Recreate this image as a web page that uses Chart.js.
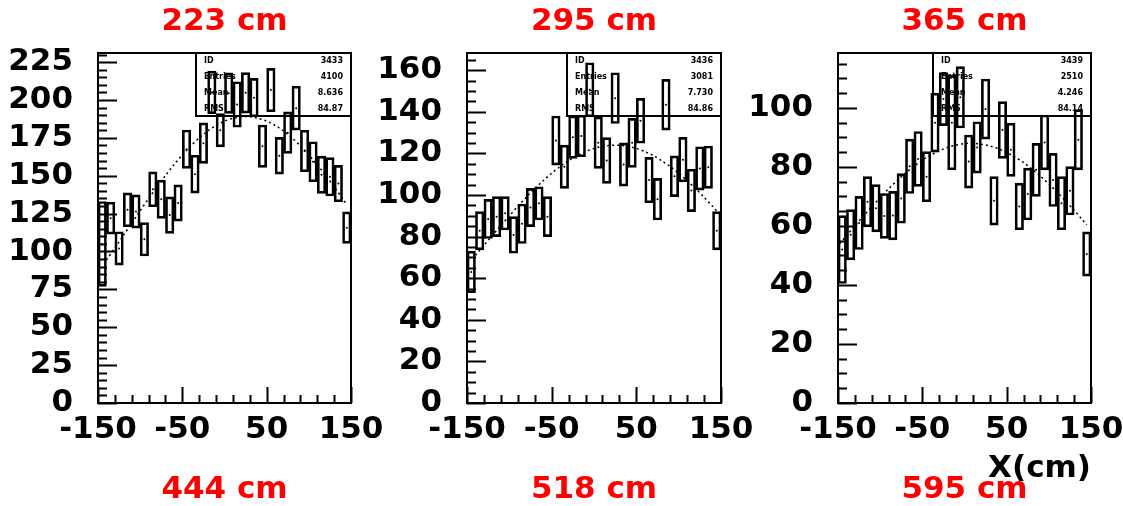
<!DOCTYPE html>
<html>
<head>
<meta charset="utf-8">
<script src="https://cdn.jsdelivr.net/npm/chart.js@4"></script>
<style>
  html, body { margin: 0; background: #fff; }
  #wrap { position: relative; width: 1123px; height: 506px; }
  #wrap canvas { position: absolute; left: 0; top: 0; }
</style>
</head>
<body>
<div id="wrap">
  <canvas id="c1" width="1123" height="506"></canvas>
  <canvas id="c2" width="1123" height="506"></canvas>
  <canvas id="c3" width="1123" height="506"></canvas>
</div>
<script>
const $ = document;

// 30 bins of 10 cm from -150 to 150
const binCenters = [-145, -135, -125, -115, -105, -95, -85, -75, -65, -55,
  -45, -35, -25, -15, -5, 5, 15, 25, 35, 45,
  55, 65, 75, 85, 95, 105, 115, 125, 135, 145];

// panel 1 (223 cm / 444 cm)
const values1 = [105, 122, 102, 127.5, 126.4, 108, 141, 134.5, 124, 132,
  167.5, 151, 171.5, 205, 180, 204.5, 197, 204.7, 201.5, 169.5,
  206.5, 163.2, 178.4, 194.6, 166.3, 159.2, 150.6, 149.3, 144.8, 115.7];
const errors1 = [28, 10.5, 11, 11.2, 11, 11, 11.5, 12.6, 12, 12,
  12.7, 12.5, 13.4, 14, 11, 13.4, 15, 13.4, 12.7, 14,
  14.3, 12.1, 13.7, 14.5, 13.7, 13.2, 12.3, 12.7, 12, 10.4];

// panel 2 (295 cm / 518 cm)
const values2 = [63, 82.8, 88.5, 89.6, 91.2, 80.8, 86.2, 94, 96, 89.6,
  126.2, 113.6, 127.8, 128.4, 150.6, 125.2, 116.6, 146.6, 114.7, 125.1,
  135.7, 107.2, 98, 143.4, 109, 117, 102.2, 112.8, 113.4, 82.8];
const errors2 = [10, 9.2, 9.4, 9.6, 8, 8.8, 9.5, 9.2, 8, 9.6,
  11.8, 10.4, 10.2, 10, 13, 12.4, 11, 12.2, 10.4, 11.8,
  10.8, 10.9, 10, 12.2, 9.8, 10.7, 10.2, 10.4, 10.2, 9.2];

// panel 3 (365 cm / 595 cm)
const values3 = [52, 57, 61, 68.2, 66, 63.4, 63.5, 69.3, 80.2, 82.7,
  76.7, 95, 103, 95, 103.6, 81.8, 86.6, 99.6, 68.5, 92.5,
  85.8, 66.6, 70.8, 79, 88.3, 75.6, 67.7, 71.9, 89.2, 50.5];
const errors3 = [11.5, 8.5, 9, 8.5, 8, 7.6, 8.2, 8.4, 9.2, 9.3,
  8.5, 10, 9, 16, 10.4, 9, 8.7, 10.2, 8.2, 9.6,
  9, 7.9, 8.8, 9, 9.3, 9, 9, 8.2, 10.2, 7.5];

// fit curves
const curveX = [-140, -130, -120, -110, -100, -90, -80, -70, -60, -50,
  -40, -30, -20, -10, 0, 10, 20, 30, 40, 50,
  60, 70, 80, 90, 100, 110, 120, 130, 140, 145];
const curve1 = [94.4, 102.4, 110.5, 118.7, 126.9, 134.9, 142.7, 150.1, 157.2, 163.7,
  169.7, 175.0, 179.5, 183.2, 186.0, 187.9, 188.9, 188.9, 187.9, 186.0,
  183.2, 179.5, 175.0, 169.7, 163.7, 157.2, 150.1, 142.7, 134.9, 130.9];
const curve2 = [71.0, 75.8, 80.6, 85.3, 90.0, 94.6, 98.9, 103.1, 106.9, 110.5,
  113.7, 116.5, 119.0, 120.9, 122.4, 123.4, 123.9, 123.9, 123.4, 122.4,
  120.9, 119.0, 116.5, 113.7, 110.5, 106.9, 103.1, 98.9, 94.6, 92.3];
const curveX3 = [-148, -140, -130, -120, -110, -100, -90, -80, -70, -60,
  -50, -40, -30, -20, -10, 0, 10, 20, 30, 40,
  50, 60, 70, 80, 90, 100, 110, 120, 130, 140, 145];
const curve3 = [54.0, 56.7, 60.0, 63.3, 66.5, 69.6, 72.6, 75.3, 77.9, 80.2,
  82.3, 84.0, 85.5, 86.6, 87.4, 87.9, 88.0, 87.7, 87.1, 86.2,
  84.9, 83.3, 81.5, 79.3, 76.9, 74.2, 71.4, 68.4, 65.3, 62.0, 60.4];

// tick labels
const xTickLabels = [-150, -50, 50, 150];
const yLabels1 = [0, 25, 50, 75, 100, 125, 150, 175, 200, 225];
const yLabels2 = [0, 20, 40, 60, 80, 100, 120, 140, 160];
const yLabels3 = [0, 20, 40, 60, 80, 100];

const topLabels = ['223 cm', '295 cm', '365 cm'];
const bottomLabels = ['444 cm', '518 cm', '595 cm'];
const statNames = ['ID', 'Entries', 'Mean', 'RMS'];
const stats1 = ['3433', '4100', '8.636', '84.87'];
const stats2 = ['3436', '3081', '7.730', '84.86'];
const stats3 = ['3439', '2510', '4.246', '84.14'];

const FONT = "'DejaVu Sans', sans-serif";

// frame, inward ticks, stats box and red labels
const rootFrame = {
  id: 'rootFrame',
  afterDatasetsDraw(chart, args, opts) {
    const { ctx, chartArea: a, scales } = chart;
    ctx.save();
    ctx.strokeStyle = '#000';
    ctx.lineWidth = 2;
    ctx.strokeRect(a.left, a.top, a.right - a.left, a.bottom - a.top);

    ctx.beginPath();
    scales.y.ticks.forEach((t) => {
      const y = Math.round(scales.y.getPixelForValue(t.value)) + 0.5;
      const len = opts.yLabels.includes(t.value) ? 19 : 9;
      ctx.moveTo(a.left, y);
      ctx.lineTo(a.left + len, y);
    });
    scales.x.ticks.forEach((t) => {
      const x = Math.round(scales.x.getPixelForValue(t.value)) + 0.5;
      const len = xTickLabels.includes(t.value) ? 16 : 8;
      ctx.moveTo(x, a.bottom);
      ctx.lineTo(x, a.bottom - len);
    });
    ctx.stroke();

    // stats box
    const bx = a.right - opts.statWidth;
    const by = a.top;
    const bh = 63;
    ctx.strokeRect(bx, by, a.right - bx, bh);
    ctx.fillStyle = '#000';
    ctx.font = 'bold 8px ' + FONT;
    ctx.textBaseline = 'middle';
    statNames.forEach((name, i) => {
      const y = by + 8 + i * 16;
      ctx.textAlign = 'left';
      ctx.fillText(name, bx + 8, y);
      ctx.textAlign = 'right';
      ctx.fillText(opts.stats[i], a.right - 8, y);
    });

    // red position labels
    ctx.fillStyle = '#ff0000';
    ctx.font = 'bold 31px ' + FONT;
    ctx.textAlign = 'center';
    const cx = (a.left + a.right) / 2;
    ctx.fillText(opts.top, cx, 22);
    ctx.fillText(opts.bottom, cx, 490);
    ctx.restore();
  }
};

const makePanel = (id, p) => {
  const boxes = binCenters.map((x, i) => ({ x: x, y: [p.values[i] - p.errors[i], p.values[i] + p.errors[i]] }));
  const dots = binCenters.map((x, i) => ({ x: x, y: p.values[i] }));
  const fit = p.curveX.map((x, i) => ({ x: x, y: p.curve[i] }));

  new Chart($.getElementById(id), {
    type: 'bar',
    data: {
      datasets: [
        {
          type: 'bar',
          data: boxes,
          backgroundColor: 'rgba(0,0,0,0)',
          borderColor: '#000',
          borderWidth: 2,
          borderSkipped: false,
          barPercentage: 1,
          categoryPercentage: 1
        },
        {
          type: 'line',
          data: dots,
          showLine: false,
          pointRadius: 1,
          pointBackgroundColor: '#000',
          pointBorderWidth: 0
        },
        {
          type: 'line',
          data: fit,
          borderColor: '#000',
          borderWidth: 1.5,
          borderDash: [2, 3],
          pointRadius: 0,
          tension: 0.3
        }
      ]
    },
    options: {
      responsive: false,
      animation: false,
      devicePixelRatio: 1,
      datasets: { bar: { barPercentage: 1, categoryPercentage: 1 } },
      layout: { padding: { left: p.left - 90, right: 1123 - p.right, top: 53, bottom: 0 } },
      plugins: {
        legend: { display: false },
        tooltip: { enabled: false },
        rootFrame: {
          yLabels: p.yLabels,
          stats: p.stats,
          statWidth: p.statWidth,
          top: p.top,
          bottom: p.bottom
        }
      },
      scales: {
        x: {
          type: 'linear',
          min: -150,
          max: 150,
          offset: false,
          grid: { display: false, drawTicks: false, offset: false },
          border: { display: false },
          afterBuildTicks: (scale) => {
            const t = [];
            for (let v = -150; v <= 150; v += 20) t.push({ value: v });
            scale.ticks = t;
          },
          afterFit: (scale) => {
            scale.height = 103;
            scale.paddingLeft = 0;
            scale.paddingRight = 0;
          },
          ticks: {
            autoSkip: false,
            maxRotation: 0,
            padding: 8,
            color: '#000',
            font: { family: FONT, size: 31, weight: 'bold' },
            callback: (v) => xTickLabels.includes(v) ? String(v) : ''
          },
          title: {
            display: p.xTitle,
            text: 'X(cm)',
            align: 'end',
            color: '#000',
            padding: { top: 0, bottom: 18 },
            font: { family: FONT, size: 31, weight: 'bold' }
          }
        },
        y: {
          type: 'linear',
          min: 0,
          max: p.ymax,
          grid: { display: false, drawTicks: false },
          border: { display: false },
          afterBuildTicks: (scale) => {
            const t = [];
            for (let v = 0; v <= p.ymax; v += 5) t.push({ value: v });
            scale.ticks = t;
          },
          afterFit: (scale) => {
            scale.width = 90;
          },
          ticks: {
            autoSkip: false,
            padding: 25,
            color: '#000',
            font: { family: FONT, size: 31, weight: 'bold' },
            callback: (v) => p.yLabels.includes(v) ? String(v) : ''
          }
        }
      }
    },
    plugins: [rootFrame]
  });
};

makePanel('c1', {
  values: values1, errors: errors1, curveX: curveX, curve: curve1,
  yLabels: yLabels1, ymax: 231, left: 98, right: 351,
  stats: stats1, statWidth: 155, top: topLabels[0], bottom: bottomLabels[0], xTitle: false
});
makePanel('c2', {
  values: values2, errors: errors2, curveX: curveX, curve: curve2,
  yLabels: yLabels2, ymax: 168.3, left: 467, right: 721,
  stats: stats2, statWidth: 154, top: topLabels[1], bottom: bottomLabels[1], xTitle: false
});
makePanel('c3', {
  values: values3, errors: errors3, curveX: curveX3, curve: curve3,
  yLabels: yLabels3, ymax: 118.6, left: 838, right: 1091,
  stats: stats3, statWidth: 158, top: topLabels[2], bottom: bottomLabels[2], xTitle: true
});
</script>
</body>
</html>
